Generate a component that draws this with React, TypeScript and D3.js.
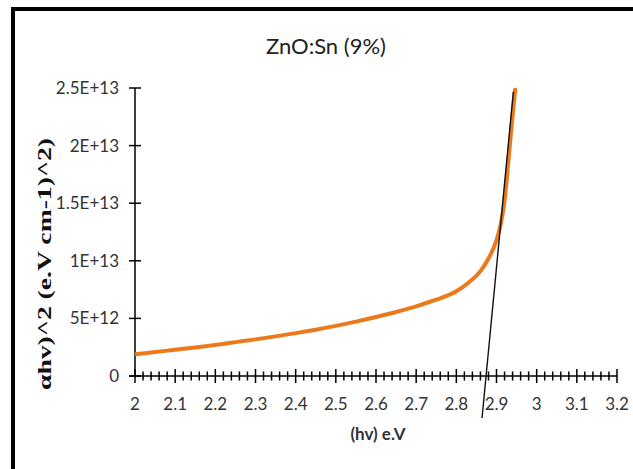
import React from "react";
import * as d3 from "d3";

// Tauc plot data: photon energy (eV) vs (αhν)^2
const hv = [2.0, 2.05, 2.1, 2.15, 2.2, 2.25, 2.3, 2.35, 2.4, 2.45, 2.5, 2.55, 2.6, 2.65, 2.7, 2.75, 2.8, 2.83, 2.86, 2.88, 2.89, 2.9, 2.91, 2.92, 2.93, 2.94, 2.947];
const alphaHv2 = [1.88e12, 2.08e12, 2.28e12, 2.48e12, 2.7e12, 2.94e12, 3.18e12, 3.44e12, 3.72e12, 4.02e12, 4.35e12, 4.72e12, 5.12e12, 5.56e12, 6.05e12, 6.62e12, 7.35e12, 8.1e12, 9.1e12, 10.2e12, 10.9e12, 11.8e12, 13.1e12, 15.2e12, 18.8e12, 22.6e12, 25.0e12];

// Linear extrapolation line (band-gap fit)
const fitX = [2.864, 2.942];
const fitY = [-3.65e12, 2.468e13];

const xTicks = [2, 2.1, 2.2, 2.3, 2.4, 2.5, 2.6, 2.7, 2.8, 2.9, 3, 3.1, 3.2];
const yTicks = [0, 5e12, 1e13, 1.5e13, 2e13, 2.5e13];
const yTickLabels = ["0", "5E+12", "1E+13", "1.5E+13", "2E+13", "2.5E+13"];

const W = 633;
const H = 469;

export default function App() {
  const x = d3.scaleLinear().domain([2, 3.2]).range([135, 617]);
  const y = d3.scaleLinear().domain([0, 2.5e13]).range([376, 88]);

  const line = d3
    .line<number>()
    .x((_, i) => x(hv[i]))
    .y((d) => y(d))
    .curve(d3.curveMonotoneX);

  const minor = d3.range(0, 61).map((i) => 2 + i * 0.02);
  const font = "Lato, 'Open Sans', sans-serif";

  return (
    <svg
      width={W}
      height={H}
      style={{ position: "absolute", left: 0, top: 0, background: "#fff" }}
    >
      <rect x={13} y={9} width={W + 20} height={H + 20} fill="#fff" stroke="#000" strokeWidth={4} />

      <text x={326} y={54} textAnchor="middle" fontFamily={font} fontSize={22} fill="#222">
        ZnO:Sn (9%)
      </text>

      {/* y axis */}
      <line x1={x(2)} x2={x(2)} y1={y(0)} y2={y(2.5e13)} stroke="#000" strokeWidth={1.5} />
      {yTicks.map((t, i) => (
        <g key={t}>
          <line x1={x(2) - 6} x2={x(2) + 6} y1={y(t)} y2={y(t)} stroke="#000" strokeWidth={1.5} />
          <text
            x={119}
            y={y(t)}
            dy="0.35em"
            textAnchor="end"
            fontFamily={font}
            fontSize={17}
            fill="#333"
          >
            {yTickLabels[i]}
          </text>
        </g>
      ))}

      {/* x axis */}
      <line x1={x(2) - 6} x2={x(3.2)} y1={y(0)} y2={y(0)} stroke="#000" strokeWidth={1.5} />
      {minor.map((t, i) => {
        const major = i % 5 === 0;
        return (
          <line
            key={i}
            x1={x(t)}
            x2={x(t)}
            y1={y(0) - (major ? 7 : 4.5)}
            y2={y(0) + (major ? 7 : 4.5)}
            stroke="#000"
            strokeWidth={1.5}
          />
        );
      })}
      {xTicks.map((t) => (
        <text
          key={t}
          x={x(t)}
          y={404}
          dy="0.35em"
          textAnchor="middle"
          fontFamily={font}
          fontSize={17}
          fill="#333"
        >
          {String(t)}
        </text>
      ))}

      {/* data curve */}
      <path d={line(alphaHv2) || ""} fill="none" stroke="#EC7A1C" strokeWidth={4} strokeLinecap="butt" />

      {/* extrapolation line */}
      <line
        x1={x(fitX[0])}
        y1={y(fitY[0])}
        x2={x(fitX[1])}
        y2={y(fitY[1])}
        stroke="#111"
        strokeWidth={1.4}
      />

      <text
        x={378}
        y={440}
        textAnchor="middle"
        fontFamily={font}
        fontWeight="bold"
        fontSize={17}
        fill="#333"
      >
        (hv) e.V
      </text>

      <text
        transform={`translate(51, 264) rotate(-90)`}
        textAnchor="middle"
        fontFamily="'Liberation Serif', 'Times New Roman', serif"
        fontWeight="bold"
        fontSize={19}
        textLength={252}
        lengthAdjust="spacingAndGlyphs"
        fill="#111"
      >
        αhv)^2 (e.V cm-1)^2)
      </text>
    </svg>
  );
}
